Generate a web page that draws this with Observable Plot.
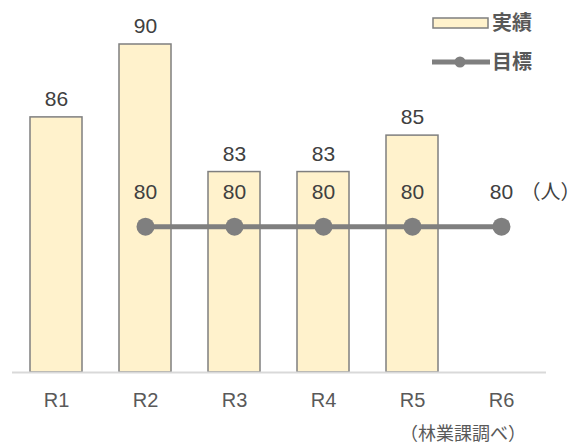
<!DOCTYPE html>
<html><head><meta charset="utf-8">
<script src="https://cdn.jsdelivr.net/npm/d3@7"></script>
<script src="https://cdn.jsdelivr.net/npm/@observablehq/plot@0.6"></script>
<style>
body{margin:0;background:#fff;}
#wrap{position:relative;width:581px;height:444px;font-family:"Liberation Sans","Noto Sans CJK JP",sans-serif;}
#legend{position:absolute;left:0;top:0;}
#note{position:absolute;left:400px;top:419px;white-space:nowrap;font-family:"Noto Sans CJK JP",sans-serif;font-size:18px;line-height:26px;color:#595959;}
</style></head>
<body><div id="wrap"></div>
<script>
const years = ["R1","R2","R3","R4","R5","R6"];
const actual = [86, 90, 83, 83, 85, null];
const target = [null, 80, 80, 80, 80, 80];
const legendLabels = ["実績", "目標"];
const unit = "（人）";
const source = "（林業課調べ）";
const yMin = 72, yMax = 90;

const bars = years.map((k,i)=>({k, v: actual[i]})).filter(d=>d.v!=null);
const tgt = years.map((k,i)=>({k, v: target[i]})).filter(d=>d.v!=null);

const chart = Plot.plot({
  width: 581, height: 444,
  marginTop: 44, marginBottom: 72, marginLeft: 12, marginRight: 35,
  style: {fontFamily: '"Liberation Sans","Noto Sans CJK JP",sans-serif', background: "#fff"},
  x: {domain: years, paddingInner: 0.415, paddingOuter: 0.2075, label: null},
  y: {domain: [yMin, yMax], axis: null},
  marks: [
    Plot.barY(bars, {x: "k", y1: yMin, y2: "v", fill: "#FFF2CC", stroke: "#7F7F7F", strokeWidth: 1.5}),
    Plot.ruleY([yMin], {stroke: "#D9D9D9", strokeWidth: 2}),
    Plot.axisX({tickSize: 0, tickPadding: 20, fontSize: 20, fill: "#595959", label: null}),
    Plot.text(bars, {x: "k", y: "v", text: d => String(d.v), dy: -18, fontSize: 21, fill: "#404040"}),
    Plot.line(tgt, {x: "k", y: "v", stroke: "#7F7F7F", strokeWidth: 5}),
    Plot.dot(tgt, {x: "k", y: "v", r: 9, fill: "#7F7F7F"}),
    Plot.text(tgt, {x: "k", y: "v", text: d => String(d.v), dy: -34, fontSize: 21, fill: "#404040"}),
    Plot.text(tgt.slice(-1), {x: "k", y: "v", text: () => unit, dy: -34, dx: 19, textAnchor: "start", fontSize: 20, fill: "#404040", fontFamily: "Noto Sans CJK JP"})
  ]
});
const wrap = document.getElementById("wrap");
wrap.appendChild(chart);

const ns = "http://www.w3.org/2000/svg";
const leg = document.createElementNS(ns, "svg");
leg.setAttribute("id", "legend");
leg.setAttribute("width", 581);
leg.setAttribute("height", 90);
leg.innerHTML = `<rect x="433" y="18" width="55" height="10" fill="#FFF2CC" stroke="#7F7F7F" stroke-width="1.5"/>
<text x="492" y="23" dy="0.36em" font-family="Noto Sans CJK JP" font-weight="bold" font-size="20" fill="#595959">${legendLabels[0]}</text>
<line x1="432" y1="62" x2="490" y2="62" stroke="#7F7F7F" stroke-width="5"/>
<circle cx="460" cy="62" r="5.5" fill="#7F7F7F"/>
<text x="492" y="62" dy="0.36em" font-family="Noto Sans CJK JP" font-weight="bold" font-size="20" fill="#595959">${legendLabels[1]}</text>`;
wrap.appendChild(leg);
const note = document.createElement("div");
note.id = "note";
note.textContent = source;
wrap.appendChild(note);
</script></body></html>
